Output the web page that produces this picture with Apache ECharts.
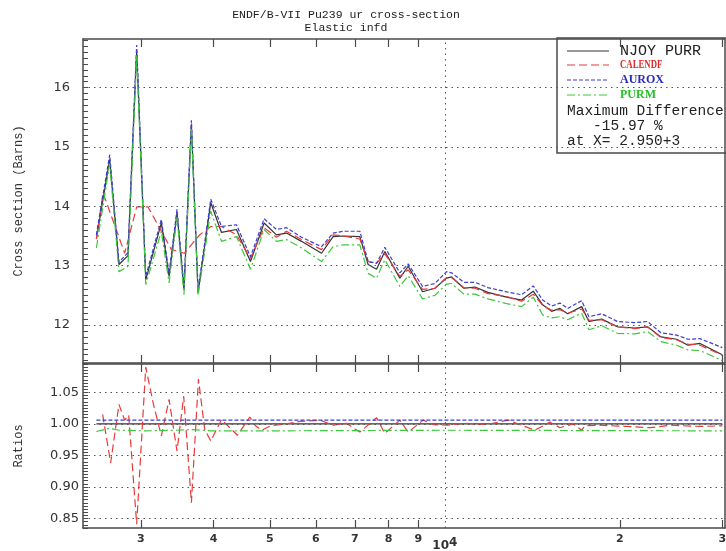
<!DOCTYPE html>
<html><head><meta charset="utf-8">
<script src="https://cdn.jsdelivr.net/npm/echarts@6/dist/echarts.min.js"></script>
<style>html,body{margin:0;padding:0;background:#fff}#c{width:726px;height:551px}</style>
</head><body><div id="c"></div><script>
// ---------- data ----------
const titleLine1 = 'ENDF/B-VII Pu239 ur cross-section';
const titleLine2 = 'Elastic infd';
const seriesNames = ['NJOY PURR', 'CALENDF', 'AUROX', 'PURM'];
const legendNote = ['Maximum Difference', '   -15.97 %', 'at X= 2.950+3'];

// energy grid (eV) shared by NJOY PURR, AUROX, PURM
const energy = [2515, 2651, 2750, 2850, 2950, 3058, 3253, 3354, 3461, 3558,
  3664, 3762, 3956, 4128, 4380, 4630, 4887, 5132, 5340, 5667,
  6135, 6423, 6683, 7140, 7379, 7628, 7884, 8366, 8647, 9155,
  9612, 10067, 10269, 10782, 11263, 11858, 12771, 13552, 14191, 14731,
  15262, 15774, 16265, 17193, 17692, 18609, 19815, 21232, 22310, 23535,
  25052, 26198, 27475, 30000];
const njoy = [13.45, 14.79, 13.02, 13.17, 16.62, 12.76, 13.72, 12.82, 13.89, 12.59,
  15.38, 12.54, 14.06, 13.56, 13.61, 13.07, 13.72, 13.52, 13.55, 13.41,
  13.21, 13.49, 13.50, 13.49, 13.02, 12.94, 13.24, 12.79, 12.99, 12.56,
  12.62, 12.79, 12.81, 12.62, 12.64, 12.55, 12.47, 12.42, 12.57, 12.34,
  12.23, 12.28, 12.19, 12.31, 12.06, 12.10, 11.97, 11.95, 11.97, 11.80,
  11.76, 11.66, 11.69, 11.50];
const aurox = [13.52, 14.87, 13.06, 13.22, 16.72, 12.82, 13.78, 12.87, 13.95, 12.64,
  15.45, 12.59, 14.12, 13.66, 13.69, 13.15, 13.79, 13.61, 13.64, 13.48,
  13.32, 13.55, 13.58, 13.58, 13.07, 13.04, 13.31, 12.88, 13.03, 12.65,
  12.70, 12.90, 12.88, 12.72, 12.72, 12.63, 12.56, 12.51, 12.66, 12.42,
  12.32, 12.37, 12.28, 12.41, 12.14, 12.19, 12.06, 12.04, 12.06, 11.87,
  11.83, 11.76, 11.77, 11.62];
const purm = [13.30, 14.72, 12.90, 12.99, 16.55, 12.68, 13.58, 12.71, 13.82, 12.51,
  15.30, 12.50, 13.92, 13.41, 13.49, 12.94, 13.61, 13.41, 13.44, 13.30,
  13.07, 13.32, 13.35, 13.35, 12.87, 12.79, 13.10, 12.65, 12.83, 12.44,
  12.50, 12.69, 12.70, 12.52, 12.52, 12.44, 12.36, 12.31, 12.47, 12.17,
  12.12, 12.14, 12.09, 12.20, 11.92, 11.99, 11.86, 11.85, 11.89, 11.72,
  11.66, 11.58, 11.57, 11.40];

// CALENDF has its own energy grid
const calEnergy = [2515, 2582, 2813, 2950, 3086, 3385, 3564, 3787, 3956, 4128,
  4380, 4630, 4887, 5132, 5340, 5667, 6135, 6423, 6683, 7140,
  7379, 7628, 7884, 8366, 8647, 9155, 9612, 10067, 10269, 10782,
  11263, 11858, 12771, 13552, 14191, 14731, 15262, 15774, 16265, 17193,
  17692, 18609, 19815, 21232, 22310, 23535, 25052, 26198, 27475, 30000];
const calendf = [13.45, 14.23, 13.21, 13.99, 13.99, 13.27, 13.21, 13.52, 13.66, 13.66,
  13.52, 13.12, 13.64, 13.48, 13.58, 13.44, 13.27, 13.52, 13.50, 13.45,
  13.07, 13.04, 13.20, 12.82, 12.93, 12.60, 12.62, 12.80, 12.80, 12.63,
  12.62, 12.53, 12.48, 12.40, 12.52, 12.33, 12.25, 12.26, 12.20, 12.27,
  12.08, 12.09, 11.97, 11.94, 11.97, 11.79, 11.75, 11.68, 11.66, 11.49];

// ratio panel
const ratioCalEnergy = [2578, 2661, 2750, 2813, 2858, 2950, 3058, 3158, 3253, 3354,
  3461, 3554, 3664, 3768, 3863, 3956, 4128, 4397, 4617, 4724,
  4837, 5012, 5340, 5630, 6098, 6423, 6771, 7140, 7628, 7884,
  8366, 8647, 9176, 9547, 10067, 10825, 11797, 12847, 13627, 14280,
  15160, 15774, 16622, 17193, 17418, 18480, 20506, 22539, 24385, 27475, 30000];
const ratioCal = [1.015, 0.938, 1.031, 1.006, 1.014, 0.841, 1.090, 1.028, 0.981, 1.039,
  0.957, 1.044, 0.875, 1.071, 0.991, 0.973, 1.007, 0.982, 1.011, 0.997,
  0.990, 0.997, 1.000, 1.004, 1.006, 0.998, 1.001, 0.987, 1.010, 0.985,
  1.006, 0.987, 1.006, 0.999, 0.998, 1.001, 0.999, 1.006, 0.997, 0.990,
  1.003, 0.994, 1.000, 0.990, 0.997, 0.998, 0.996, 0.994, 0.998, 0.996, 0.997];
const ratioNjoyEnergy = [2515, 30000];
const ratioNjoy = [1.000, 1.000];
const ratioAuroxEnergy = [2515, 2950, 4128, 7140, 12771, 30000];
const ratioAurox = [1.006, 1.006, 1.006, 1.006, 1.006, 1.006];
const ratioPurmEnergy = [2515, 2651, 2750, 3058, 3461, 3664, 3956, 5000, 10000, 30000];
const ratioPurm = [0.988, 0.993, 0.990, 0.989, 0.990, 0.991, 0.989, 0.989, 0.990, 0.989];

// axis ticks / labels
const xTickValues = [3000, 4000, 5000, 6000, 7000, 8000, 9000, 10000, 20000, 30000];
const xTickLabels = ['3', '4', '5', '6', '7', '8', '9', '{a|10}{b|4}', '2', '3'];
const xTickMarks = [3000, 4000, 5000, 6000, 7000, 8000, 9000, 20000, 30000];
const topYLabels = [12, 13, 14, 15, 16];
const ratioYLabels = [0.85, 0.90, 0.95, 1.00, 1.05];

// ---------- layout / style ----------
const xMin = 2385, xMax = 30330;
const topMin = 11.36, topMax = 16.82;
const ratMin = 0.835, ratMax = 1.095;
const C = {black: '#333333', red: '#e83b3b', blue: '#3d3dd2', green: '#3cc83c', frame: '#4a4a4a'};
const mono = '"Liberation Mono", "DejaVu Sans Mono", monospace';
const sans = '"DejaVu Sans", sans-serif';

const topMinor = []; for (let k = 114; k <= 168; k++) topMinor.push(k / 10);
const ratMinor = []; for (let k = 167; k <= 219; k++) ratMinor.push(k / 200);

const pairs = (xs, ys) => xs.map((x, i) => [x, ys[i]]);
function xLabelFmt(v) {
  for (let i = 0; i < xTickValues.length; i++) {
    if (Math.abs(v - xTickValues[i]) / xTickValues[i] < 1e-6) return xTickLabels[i];
  }
  return '';
}
function xAxisDef(gridIndex, position, showLabels) {
  return {
    type: 'log', logBase: 10, gridIndex, position, min: xMin, max: xMax,
    axisLine: {show: true, onZero: false, lineStyle: {color: C.frame, width: 1.5}},
    axisTick: {show: true, inside: true, length: 8, customValues: xTickMarks, lineStyle: {color: C.frame, width: 1.2}},
    axisLabel: {show: showLabels, customValues: xTickValues, interval: 0, formatter: xLabelFmt, margin: 6,
      color: '#333', fontFamily: sans, fontSize: 11, fontWeight: 'bold',
      rich: {a: {fontFamily: sans, fontSize: 12, color: '#333', padding: [6, 0, 0, 0]},
             b: {fontFamily: sans, fontSize: 12, color: '#333'}}},
    splitLine: {show: false}, minorTick: {show: false}, minorSplitLine: {show: false}
  };
}
function yLeft(gridIndex, min, max, minor, labels, name, margin, fmt) {
  return {
    type: 'value', gridIndex, position: 'left', min, max,
    name, nameLocation: 'middle', nameGap: 58,
    nameTextStyle: {fontFamily: mono, fontSize: 12, color: '#333'},
    axisLine: {show: true, onZero: false, lineStyle: {color: C.frame, width: 1.5}},
    axisTick: {show: true, inside: true, length: 5, customValues: minor, lineStyle: {color: C.frame, width: 1}},
    axisLabel: {customValues: labels, formatter: fmt, margin, color: '#333', fontFamily: sans, fontSize: 13},
    splitLine: {show: false}
  };
}
function yRight(gridIndex, min, max) {
  return {type: 'value', gridIndex, position: 'right', min, max,
    axisLine: {show: true, onZero: false, lineStyle: {color: C.frame, width: 1.5}},
    axisTick: {show: false}, axisLabel: {show: false}, splitLine: {show: false}};
}
const gridLineStyle = {type: [1.5, 4], color: '#555', width: 1};
function lineSeries(name, data, xi, yi, color, dash, z) {
  return {type: 'line', name, data, xAxisIndex: xi, yAxisIndex: yi, symbol: 'none', showSymbol: false,
    lineStyle: {color, width: 1.2, type: dash}, itemStyle: {color}, z, silent: true};
}

const chart = echarts.init(document.getElementById('c'), null, {renderer: 'canvas'});
const blackTop = lineSeries(seriesNames[0], pairs(energy, njoy), 0, 0, C.black, 'solid', 3);
blackTop.markLine = {silent: true, symbol: 'none', label: {show: false}, lineStyle: gridLineStyle,
  data: topYLabels.map(v => ({yAxis: v})).concat([{xAxis: 10000}])};
const blackRat = lineSeries(seriesNames[0] + ' ratio', pairs(ratioNjoyEnergy, ratioNjoy), 2, 2, C.black, 'solid', 3);
blackRat.markLine = {silent: true, symbol: 'none', label: {show: false}, lineStyle: gridLineStyle,
  data: ratioYLabels.map(v => ({yAxis: v})).concat([{xAxis: 10000}])};

const legX = 557, legY = 38;
const rowY = [51, 65, 80, 95];
const lg = [
  {type: 'rect', shape: {x: legX, y: legY, width: 172, height: 115}, style: {fill: '#fff', stroke: C.frame, lineWidth: 1.5}},
];
const legDash = [null, [8, 4], [4, 2], [8, 3, 2, 3]];
const legCol = [C.black, C.red, C.blue, C.green];
const legTextCol = ['#222', '#e02828', '#2a2ac0', '#28c028'];
seriesNames.forEach((n, i) => {
  lg.push({type: 'line', shape: {x1: 567, y1: rowY[i], x2: 609, y2: rowY[i]},
    style: {stroke: legCol[i], lineWidth: 1.2, lineDash: legDash[i]}});
  if (i === 0) {
    lg.push({type: 'text', x: 620, y: rowY[i], style: {text: n, fill: legTextCol[i], font: '15px ' + mono, textVerticalAlign: 'middle'}});
  } else {
    lg.push({type: 'text', x: 620, y: rowY[i], scaleX: i === 1 ? 0.73 : 1,
      style: {text: n, fill: legTextCol[i], font: 'bold 12px "Liberation Serif", serif', textVerticalAlign: 'middle'}});
  }
});
legendNote.forEach((t, i) => {
  lg.push({type: 'text', x: 567, y: 111 + i * 15, style: {text: t, fill: '#222', font: '14.5px ' + mono, textVerticalAlign: 'middle'}});
});

chart.setOption({
  animation: false,
  backgroundColor: '#fff',
  title: {text: titleLine1 + '\n' + titleLine2, left: 341, top: 3, textAlign: 'center',
    textStyle: {fontFamily: mono, fontSize: 11.5, fontWeight: 'normal', color: '#222', lineHeight: 13.5}},
  grid: [
    {left: 83, right: 1, top: 39, height: 324, containLabel: false, outerBoundsMode: 'none'},
    {left: 83, right: 1, top: 364, height: 164, containLabel: false, outerBoundsMode: 'none'}
  ],
  xAxis: [xAxisDef(0, 'bottom', false), xAxisDef(0, 'top', false), xAxisDef(1, 'bottom', true), xAxisDef(1, 'top', false)],
  yAxis: [
    yLeft(0, topMin, topMax, topMinor, topYLabels, 'Cross section (Barns)', 13, v => String(Math.round(v))),
    yRight(0, topMin, topMax),
    yLeft(1, ratMin, ratMax, ratMinor, ratioYLabels, 'Ratios', 4, v => v.toFixed(2)),
    yRight(1, ratMin, ratMax)
  ],
  series: [
    blackTop,
    lineSeries(seriesNames[1], pairs(calEnergy, calendf), 0, 0, C.red, [8, 4], 4),
    lineSeries(seriesNames[2], pairs(energy, aurox), 0, 0, C.blue, [4, 2], 5),
    lineSeries(seriesNames[3], pairs(energy, purm), 0, 0, C.green, [8, 3, 2, 3], 6),
    blackRat,
    lineSeries(seriesNames[1] + ' ratio', pairs(ratioCalEnergy, ratioCal), 2, 2, C.red, [8, 4], 4),
    lineSeries(seriesNames[2] + ' ratio', pairs(ratioAuroxEnergy, ratioAurox), 2, 2, C.blue, [4, 2], 5),
    lineSeries(seriesNames[3] + ' ratio', pairs(ratioPurmEnergy, ratioPurm), 2, 2, C.green, [8, 3, 2, 3], 6)
  ],
  graphic: [{type: 'group', z: 100, children: lg}]
});
</script></body></html>
